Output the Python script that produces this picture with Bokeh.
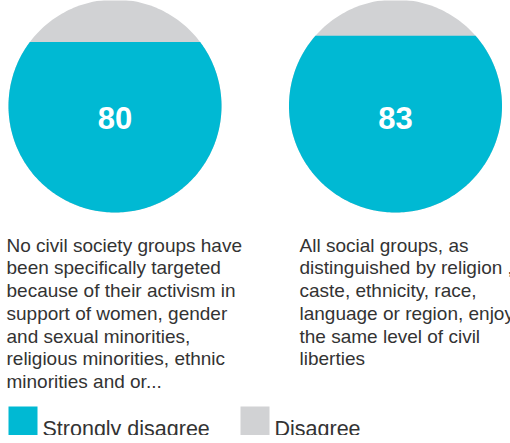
import numpy as np
from bokeh.plotting import figure
from bokeh.models import Range1d
from bokeh.core.properties import value
from bokeh.embed import file_html
from bokeh.resources import INLINE

# ---- data ----
values = [80, 83]
labels = [
    "No civil society groups have\nbeen specifically targeted\nbecause of their activism in\nsupport of women, gender\nand sexual minorities,\nreligious minorities, ethnic\nminorities and or...",
    "All social groups, as\ndistinguished by religion ,\ncaste, ethnicity, race,\nlanguage or region, enjoy\nthe same level of civil\nliberties",
]
legend_names = ["Strongly disagree", "Disagree"]
colors = ["#00B9D3", "#D1D2D4"]

# ---- layout (page pixel coordinates) ----
W, H = 510, 435
p = figure(width=W, height=H, output_backend="svg", toolbar_location=None,
           x_range=Range1d(0, 510), y_range=Range1d(443, 8),
           min_border=0, outline_line_color=None)
p.axis.visible = False
p.grid.visible = False
p.background_fill_color = "white"

centers_x = [114.5, 395.0]
cy = 113.5
r = 106.5
text_x = [6, 299]

for i, v in enumerate(values):
    cx = centers_x[i]
    t = np.linspace(0, 2 * np.pi, 241)
    p.patch(cx + r * np.cos(t), cy + r * np.sin(t), fill_color=colors[1], line_color=None)
    level = cy + r - (v / 100.0) * 2 * r
    a = np.arcsin(np.clip((level - cy) / r, -1, 1))
    ang = np.linspace(a, np.pi - a, 241)
    xs = cx + r * np.cos(ang)
    ys = cy + r * np.sin(ang)
    p.patch(xs, ys, fill_color=colors[0], line_color=None)
    p.text(x=[cx], y=[125], text=[str(v)], text_align="center", text_baseline="alphabetic",
           text_color="white", text_font=value("Liberation Sans"), text_font_style="bold",
           text_font_size="31px")
    lines = labels[i].split("\n")
    p.text(x=[text_x[i]] * len(lines), y=[252.7 + 22.7 * k for k in range(len(lines))],
           text=lines, text_align="left", text_baseline="alphabetic",
           text_color="#333333", text_font=value("Liberation Sans"), text_font_size="19px")

leg_x = [8, 240]
for j, name in enumerate(legend_names):
    p.quad(left=[leg_x[j]], right=[leg_x[j] + 29], top=[414], bottom=[443],
           fill_color=colors[j], line_color=None)
    p.text(x=[leg_x[j] + 34], y=[436.5], text=[name], text_align="left",
           text_baseline="alphabetic", text_color="#333333",
           text_font=value("Liberation Sans"), text_font_size="21.5px")

open("out.html", "w").write(file_html(p, INLINE))
